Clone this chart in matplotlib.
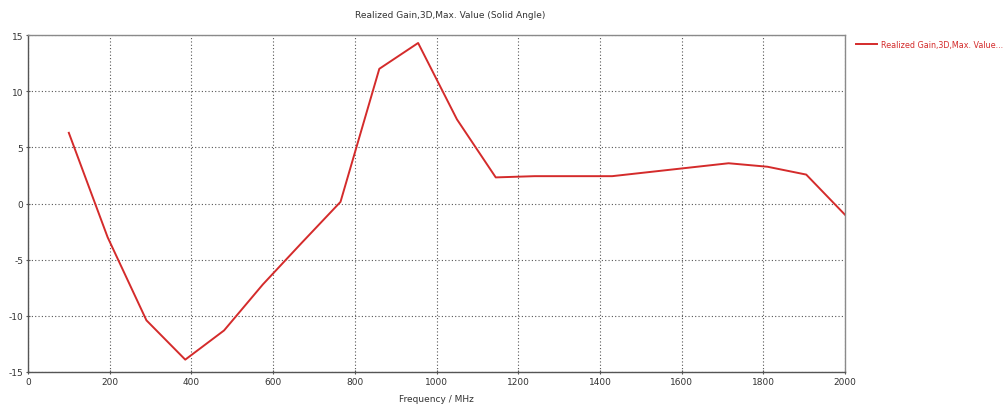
import matplotlib
matplotlib.use('Agg')
import matplotlib.pyplot as plt

# 주파수 (MHz) 와 이득 (dB)
freq = [100, 195, 290, 385, 480, 575, 670, 765, 860, 955, 1050, 1145, 1240, 1430, 1715, 1810, 1905, 2000]
gain = [6.3, -3.0, -10.4, -13.9, -11.3, -7.2, -3.5, 0.15, 12.0, 14.3, 7.5, 2.33, 2.44, 2.44, 3.59, 3.28, 2.58, -1.0]

x_ticks = [0, 200, 400, 600, 800, 1000, 1200, 1400, 1600, 1800, 2000]
y_ticks = [-15, -10, -5, 0, 5, 10, 15]

title = 'Realized Gain,3D,Max. Value (Solid Angle)'
legend_label = 'Realized Gain,3D,Max. Value...'
red = '#d42b2b'

plt.rc('font', family='DejaVu Sans')
plt.rc('axes', unicode_minus=False)

fig = plt.figure(figsize=(10.06, 4.06), dpi=100)
ax = fig.add_axes([0.0278, 0.0813, 0.8122, 0.8297])

line, = ax.plot(freq, gain, color=red, linewidth=1.4, label=legend_label)

ax.set_xlim(0, 2000)
ax.set_ylim(-15, 15)
ax.set_xticks(x_ticks)
ax.set_yticks(y_ticks)
ax.tick_params(labelsize=6.5, length=3, direction='inout', color='#555555',
               labelcolor='#333333', pad=2)
ax.grid(True, color='#555555', linestyle=(0, (1, 2)), linewidth=0.8)

for s in ax.spines.values():
    s.set_color('#8a8a8a')
    s.set_linewidth(1.0)
ax.spines['left'].set_color('#555555')
ax.spines['bottom'].set_color('#555555')

ax.set_xlabel('Frequency / MHz', fontsize=6.5, labelpad=6, color='#333333')
fig.text(450 / 1006, 1 - 15 / 406, title, fontsize=6.5, ha='center', va='center', color='#333333')

# 오른쪽 범례
fig.legend(handles=[line], loc='upper left', bbox_to_anchor=(853 / 1006, 1 - 38 / 406),
           frameon=False, fontsize=5.8, handlelength=2.6, handletextpad=0.5,
           borderaxespad=0, labelcolor=red)

plt.savefig('out.png', dpi=100)
